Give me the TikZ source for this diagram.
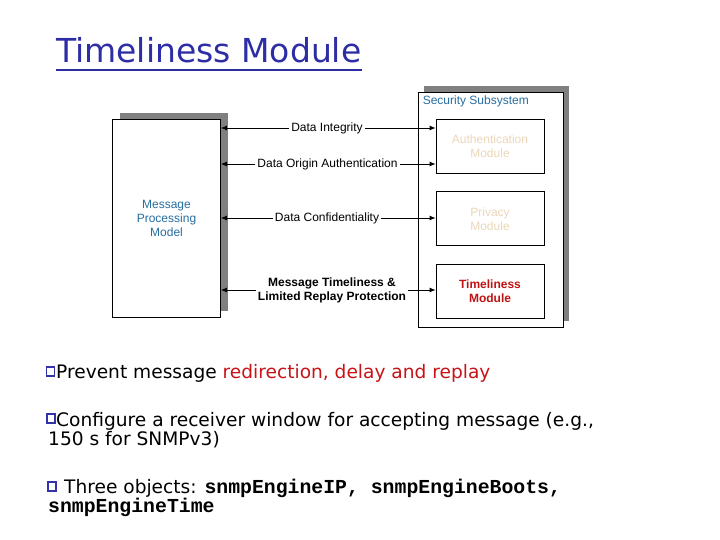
\documentclass[tikz,border=0pt]{standalone}
\usepackage{fontspec}
\usepackage{xcolor}
\usetikzlibrary{arrows.meta,shadows,positioning}
\newfontfamily\arialfont{Liberation Sans}
\newfontfamily\comicfont{DejaVu Sans}
\newfontfamily\courfont{Liberation Mono}
\definecolor{titleblue}{RGB}{45,45,165}
\definecolor{slidered}{RGB}{200,20,25}
\definecolor{steelblue}{RGB}{40,110,160}
\definecolor{paletan}{RGB}{235,215,185}
\definecolor{modred}{RGB}{190,20,20}
\definecolor{shadowgray}{RGB}{128,128,128}
\definecolor{bulletblue}{RGB}{50,50,170}
\tikzstyle{mpbox} = [rectangle, draw=black, fill=white, line width=0.8pt, minimum width=108pt, minimum height=198pt, align=center, text=steelblue, font=\arialfont\fontsize{12}{14}\selectfont, drop shadow={shadow xshift=7pt, shadow yshift=6pt, fill=shadowgray, opacity=1}]
\tikzstyle{subsys} = [rectangle, draw=black, fill=white, line width=0.8pt, minimum width=145pt, minimum height=235pt, drop shadow={shadow xshift=6pt, shadow yshift=6pt, fill=shadowgray, opacity=1}]
\tikzstyle{module} = [rectangle, draw=black, fill=white, line width=0.8pt, minimum width=108pt, minimum height=54pt, align=center, font=\arialfont\fontsize{12}{14}\selectfont]
\tikzstyle{service} = [inner sep=2pt, align=center, font=\arialfont\fontsize{12}{14}\selectfont]
\tikzstyle{arrow} = [line width=0.8pt, -{Latex[length=6pt,width=5pt]}]
\tikzstyle{slidetext} = [inner sep=0pt, anchor=base west, align=left, font=\comicfont\fontsize{18.6}{19}\selectfont]
\tikzstyle{qbox} = [draw=bulletblue, line width=1.2pt]
\newcommand{\snmpobj}[1]{{\courfont\bfseries\fontsize{19.8}{19}\selectfont #1}}

\begin{document}
\begin{tikzpicture}[x=1pt, y=-1pt, node distance=18pt]
\fill[white] (0,0) rectangle (720,540);
\useasboundingbox (0,0) rectangle (720,540);

%Title==============================================
\node (title) [inner sep=0pt, anchor=base west, text=titleblue, font=\comicfont\fontsize{33}{36}\selectfont] at (56,63) {Timeliness Module};
\draw[titleblue, line width=2pt] ([yshift=-7pt]title.base west) -- ([yshift=-7pt]title.base east);

%Message processing model===========================
\node (mpm) [mpbox] at (166.5,218) {Message\\Processing\\Model};

%Security subsystem=================================
\node (secsub) [subsys] at (490.5,209.5) {};
\node[anchor=north west, inner sep=0pt, text=steelblue, font=\arialfont\fontsize{12}{14}\selectfont] at ([xshift=5pt, yshift=-4pt]secsub.north west) {Security Subsystem};

\node (authmod) [module, text=paletan] at (490,146) {Authentication\\Module};
\node (privmod) [module, text=paletan, below=of authmod] {Privacy\\Module};
\node (timemod) [module, text=modred, font=\arialfont\bfseries\fontsize{12}{14}\selectfont, below=of privmod] {Timeliness\\Module};

%Services===========================================
\node (integ) [service] at (327,128) {Data Integrity};
\node (origin) [service] at (327.5,164) {Data Origin Authentication};
\node (confid) [service] at (327,218) {Data Confidentiality};
\node (timel) [service, font=\arialfont\bfseries\fontsize{12}{14}\selectfont] at (332,290) {Message Timeliness \&\\Limited Replay Protection};

\draw [arrow] (integ.west) -- (integ.west -| mpm.east);
\draw [arrow] (integ.east) -- (integ.east -| authmod.west);
\draw [arrow] (origin.west) -- (origin.west -| mpm.east);
\draw [arrow] (origin.east) -- (origin.east -| authmod.west);
\draw [arrow] (confid.west) -- (confid.west -| mpm.east);
\draw [arrow] (confid.east) -- (confid.east -| privmod.west);
\draw [arrow] (timel.west) -- (timel.west -| mpm.east);
\draw [arrow] (timel.east) -- (timel.east -| timemod.west);

%Bullets============================================
\draw[qbox] (46.5,367) rectangle (54.5,376);
\node (bul1) [slidetext] at (56,378) {Prevent message \textcolor{slidered}{redirection, delay and replay}};

\draw[qbox] (47,414) rectangle (55,423);
\node (bul2) [slidetext] at (48,445) {\hspace*{8pt}Configure a receiver window for accepting message (e.g.,\\150 s for SNMPv3)};

\draw[qbox] (48,482) rectangle (56,491);
\node (bul3) [slidetext] at (48,512) {\hspace*{16pt}Three objects: \snmpobj{snmpEngineIP, snmpEngineBoots,}\\\snmpobj{snmpEngineTime}};
\end{tikzpicture}
\end{document}
